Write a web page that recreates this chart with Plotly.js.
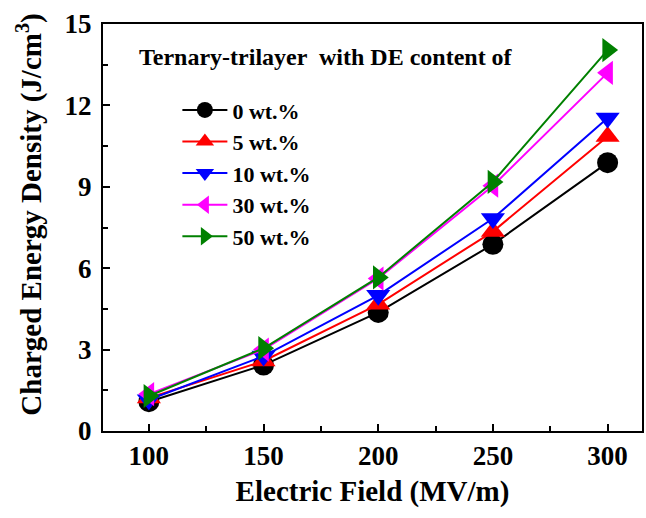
<!DOCTYPE html>
<html>
<head>
<meta charset="utf-8">
<script src="https://cdn.plot.ly/plotly-3.0.1.min.js"></script>
<style>html,body{margin:0;padding:0;background:#fff;}#chart{width:646px;height:518px;}</style>
</head>
<body>
<div id="chart"></div>
<script>
const field = [100, 150, 200, 250, 300];
const seriesNames = ['0 wt.%', '5 wt.%', '10 wt.%', '30 wt.%', '50 wt.%'];
const wt0  = [1.08, 2.43, 4.37, 6.88, 9.89];
const wt5  = [1.22, 2.58, 4.67, 7.35, 10.85];
const wt10 = [1.15, 2.76, 5.00, 7.83, 11.54];
const wt30 = [1.36, 3.00, 5.62, 9.04, 13.20];
const wt50 = [1.29, 3.05, 5.66, 9.18, 14.04];
const xTicks = [100, 150, 200, 250, 300];
const yTicks = [0, 3, 6, 9, 12, 15];

const values = [wt0, wt5, wt10, wt30, wt50];
const colors = ['#000000', '#ff0000', '#0000ff', '#ff00ff', '#008000'];
const symbols = ['circle', 'triangle-up', 'triangle-down', 'triangle-left', 'triangle-right'];
const FONT = 'Liberation Serif, Times New Roman, serif';

const traces = values.map((v, i) => ({
  x: field, y: v, name: seriesNames[i], type: 'scatter', mode: 'lines+markers',
  line: {color: colors[i], width: 2},
  marker: {symbol: symbols[i], size: 21, color: colors[i]}
}));

const axisCommon = {
  showline: true, linecolor: '#000', linewidth: 2, mirror: true,
  ticks: 'inside', ticklen: 7, tickwidth: 2, tickcolor: '#000',
  showgrid: false, zeroline: false,
  tickfont: {family: FONT, size: 27, color: '#000', weight: 'bold'},
  minor: {ticks: 'inside', ticklen: 5, tickwidth: 2, tickcolor: '#000'}
};

const layout = {
  width: 646, height: 518,
  margin: {l: 103, r: 4, t: 24, b: 87},
  paper_bgcolor: '#fff', plot_bgcolor: '#fff',
  font: {family: FONT, color: '#000'},
  showlegend: true,
  legend: {
    x: 0.138, y: 0.840, xanchor: 'left', yanchor: 'top',
    bgcolor: 'rgba(0,0,0,0)',
    font: {family: FONT, size: 22, color: '#000', weight: 'bold'},
    itemsizing: 'trace', itemwidth: 45, tracegroupgap: 0
  },
  xaxis: Object.assign({}, axisCommon, {
    range: [80, 315], tickvals: xTicks, ticktext: xTicks.map(String),
    minor: Object.assign({}, axisCommon.minor, {dtick: 25, tick0: 75}),
    title: {text: 'Electric Field (MV/m)', font: {family: FONT, size: 29, color: '#000', weight: 'bold'}, standoff: 10}
  }),
  yaxis: Object.assign({}, axisCommon, {
    range: [0, 15], tickvals: yTicks, ticktext: yTicks.map(String),
    minor: Object.assign({}, axisCommon.minor, {dtick: 1.5, tick0: 0}),
    ticklabelstandoff: 4
  }),
  annotations: [{
    xref: 'paper', yref: 'paper', x: 0.063, y: 0.919, xanchor: 'left', yanchor: 'middle',
    showarrow: false, text: 'Ternary-trilayer  with DE content of',
    font: {family: FONT, size: 24, color: '#000', weight: 'bold'}
  }, {
    xref: 'paper', yref: 'paper', x: -0.137, y: 0.532, xanchor: 'center', yanchor: 'middle',
    textangle: -90, showarrow: false, text: 'Charged Energy Density (J/cm<sup>3</sup>)',
    font: {family: FONT, size: 29, color: '#000', weight: 'bold'}
  }]
};

Plotly.newPlot('chart', traces, layout, {displayModeBar: false, staticPlot: true});
</script>
</body>
</html>
